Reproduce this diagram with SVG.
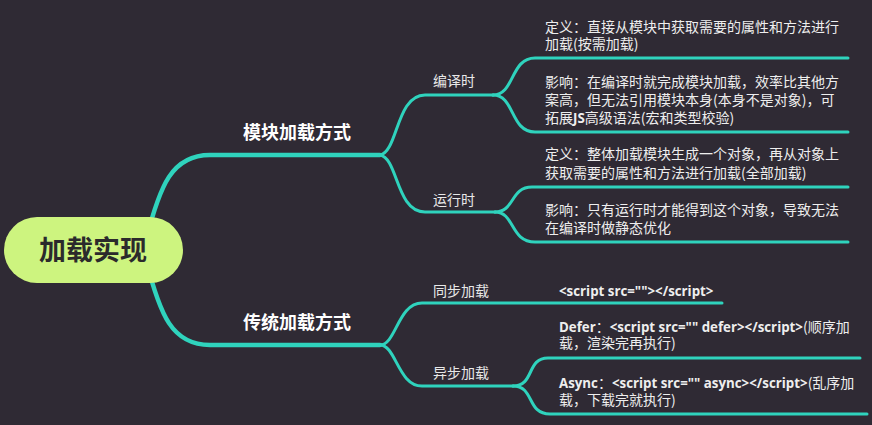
<svg xmlns="http://www.w3.org/2000/svg" width="872" height="425" viewBox="0 0 872 425">
<style>
.bg{fill:#2f2a34}
.c{fill:none;stroke:#2fd3bd;stroke-linecap:round}
.m{stroke-width:4.5}
.s{stroke-width:3}
text{font-family:"Noto Sans CJK SC","Noto Sans",sans-serif;fill:#f2f2f2}
.root{font-size:27px;font-weight:700;fill:#2b2a2c}
.l1{font-size:18px;font-weight:700;fill:#ffffff}
.l2{font-size:14px;fill:#e8e8e8}
.leaf{font-size:14px;fill:#eeeeee}
.lat{font-family:"Open Sans","Noto Sans",sans-serif;font-weight:700;font-size:13.3px}
</style>
<rect class="bg" x="0" y="0" width="872" height="425"/>
<g id="connectors">
<path class="c m" d="M146,240 C160,185 172,155 210,155 L380,155"/>
<path class="c m" d="M146,260 C160,315 172,345 210,345 L380,345"/>
<path class="c s" d="M380,155 C398,152 396,95 425,95 L493,95"/>
<path class="c s" d="M493,95 C515,95 510,58 535,58 L848,58"/>
<path class="c s" d="M493,95 C515,95 510,132 535,132 L848,132"/>
<path class="c s" d="M380,155 C398,158 396,212 425,212 L495,212"/>
<path class="c s" d="M495,212 C515,212 510,187 532,187 L848,187"/>
<path class="c s" d="M495,212 C515,212 510,242 535,242 L848,242"/>
<path class="c s" d="M380,345 C396,345 398,303 422,303 L722,303"/>
<path class="c s" d="M380,345 C396,345 398,386 422,386 L513,386"/>
<path class="c s" d="M513,386 C535,386 526,358 548,358 L860,358"/>
<path class="c s" d="M513,386 C535,386 526,414 550,414 L867,414"/>
</g>
<g id="root">
<rect x="4" y="217" width="179" height="66" rx="33" fill="#cdf47f"/>
<text class="root" x="93" y="260" text-anchor="middle">加载实现</text>
</g>
<g id="n-mokuai"><text class="l1" x="243" y="139">模块加载方式</text></g>
<g id="n-chuantong"><text class="l1" x="243" y="329">传统加载方式</text></g>
<g id="n-bianyi"><text class="l2" x="433" y="86">编译时</text></g>
<g id="n-yunxing"><text class="l2" x="433" y="205">运行时</text></g>
<g id="n-tongbu"><text class="l2" x="433" y="296">同步加载</text></g>
<g id="n-yibu"><text class="l2" x="433" y="378">异步加载</text></g>
<g id="leaf-b1"><text class="leaf" x="545" y="32">定义：直接从模块中获取需要的属性和方法进行</text><text class="leaf" x="545" y="49">加载(按需加载)</text></g>
<g id="leaf-b2"><text class="leaf" x="545" y="87">影响：在编译时就完成模块加载，效率比其他方</text><text class="leaf" x="545" y="105">案高，但无法引用模块本身(本身不是对象)，可</text><text class="leaf" x="545" y="123">拓展<tspan class="lat">JS</tspan>高级语法(宏和类型校验)</text></g>
<g id="leaf-y1"><text class="leaf" x="545" y="159">定义：整体加载模块生成一个对象，再从对象上</text><text class="leaf" x="545" y="178">获取需要的属性和方法进行加载(全部加载)</text></g>
<g id="leaf-y2"><text class="leaf" x="545" y="215">影响：只有运行时才能得到这个对象，导致无法</text><text class="leaf" x="545" y="233">在编译时做静态优化</text></g>
<g id="leaf-t1"><text class="leaf lat" x="559" y="296">&lt;script src=""&gt;&lt;/script&gt;</text></g>
<g id="leaf-d"><text class="leaf" x="559" y="332"><tspan class="lat">Defer</tspan>：<tspan class="lat">&lt;script src="" defer&gt;&lt;/script&gt;</tspan>(顺序加</text><text class="leaf" x="559" y="348">载，渲染完再执行)</text></g>
<g id="leaf-a"><text class="leaf" x="559" y="388"><tspan class="lat">Async</tspan>：<tspan class="lat">&lt;script src="" async&gt;&lt;/script&gt;</tspan>(乱序加</text><text class="leaf" x="559" y="405">载，下载完就执行)</text></g>
</svg>
